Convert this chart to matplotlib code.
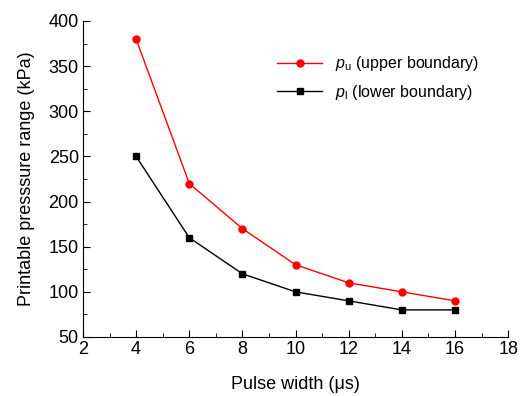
import matplotlib
matplotlib.use('Agg')
from matplotlib import pyplot as plt
from matplotlib.ticker import MultipleLocator

# データ
pulse_width = [4, 6, 8, 10, 12, 14, 16]
p_upper = [380, 220, 170, 130, 110, 100, 90]
p_lower = [250, 160, 120, 100, 90, 80, 80]

plt.rcParams['font.family'] = ['Liberation Sans', 'DejaVu Sans']
plt.rcParams['mathtext.fontset'] = 'custom'
plt.rcParams['mathtext.it'] = 'Liberation Sans:italic'
plt.rcParams['mathtext.rm'] = 'Liberation Sans'

fig = plt.figure(figsize=(5.25, 3.96), dpi=100)
ax = fig.add_axes([0.158, 0.149, 0.810, 0.798])

ax.plot(pulse_width, p_upper, color='red', marker='o', markersize=5, linewidth=1,
        label=r'$p_\mathrm{u}$ (upper boundary)')
ax.plot(pulse_width, p_lower, color='black', marker='s', markersize=5, linewidth=1,
        label=r'$p_\mathrm{l}$ (lower boundary)')

# 見た目を整える
ax.set_xlim(2, 18)
ax.set_ylim(50, 400)
ax.xaxis.set_major_locator(MultipleLocator(2))
ax.xaxis.set_minor_locator(MultipleLocator(1))
ax.yaxis.set_major_locator(MultipleLocator(50))
ax.yaxis.set_minor_locator(MultipleLocator(25))
ax.spines['top'].set_visible(False)
ax.spines['right'].set_visible(False)
ax.tick_params(which='major', direction='in', length=5, labelsize=13, pad=3)
ax.tick_params(which='minor', direction='in', length=3)
ax.set_xlabel('Pulse width (μs)', fontsize=13, labelpad=13)
ax.set_ylabel('Printable presssure range (kPa)', fontsize=13, labelpad=10)

ax.legend(loc='upper right', bbox_to_anchor=(0.965, 0.94), frameon=False, fontsize=11.5,
          handlelength=2.8, labelspacing=0.6)

fig.savefig('out.png', dpi=100)
